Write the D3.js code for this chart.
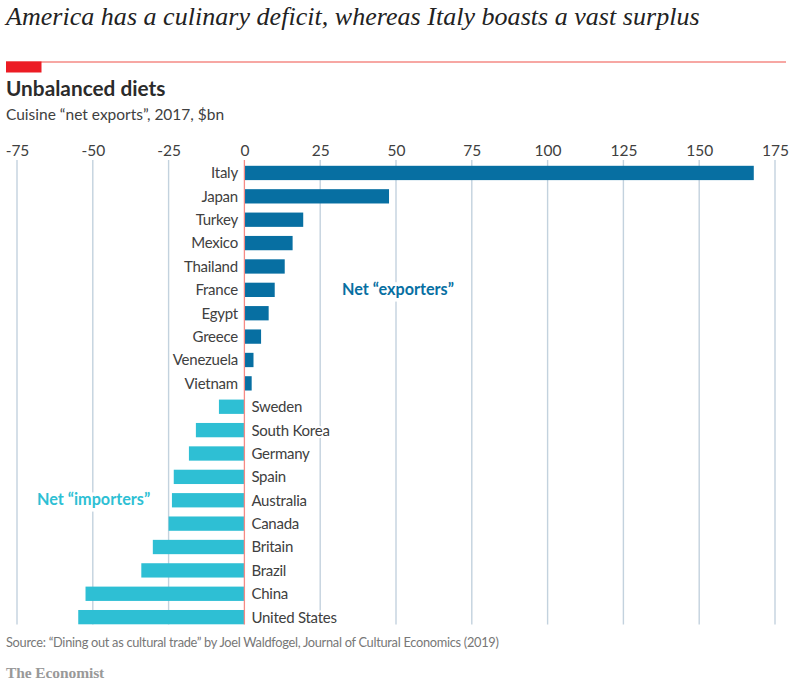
<!DOCTYPE html>
<html>
<head>
<meta charset="utf-8">
<script src="https://cdn.jsdelivr.net/npm/d3@7"></script>
<style>
  html, body { margin: 0; padding: 0; background: #fff; }
  text { font-family: Lato, "Noto Sans", sans-serif; }
</style>
</head>
<body>
<svg id="chart" width="800" height="689"></svg>
<script>
var countries = ["Italy", "Japan", "Turkey", "Mexico", "Thailand", "France", "Egypt", "Greece", "Venezuela", "Vietnam",
  "Sweden", "South Korea", "Germany", "Spain", "Australia", "Canada", "Britain", "Brazil", "China", "United States"];
var netExports = [168, 47.7, 19.4, 15.9, 13.3, 10, 8, 5.5, 3, 2.4,
  -8.4, -16, -18.3, -23.3, -23.9, -25, -30.2, -34, -52.4, -54.8];
var tickValues = [-75, -50, -25, 0, 25, 50, 75, 100, 125, 150, 175];

var exporterColour = "#076fa2";
var importerColour = "#2ebfd4";
var redLine = "#f58a85";
var inkColour = "#404040";

var svg = d3.select("#chart");

var x = d3.scaleLinear().domain([-75, 175]).range([17, 775]);
var y = d3.scaleBand().domain(countries).range([165.8, 624.3]).paddingInner(0.388).paddingOuter(0);

// title block
svg.append("text").attr("x", 6).attr("y", 25)
  .style("font-family", "'Liberation Serif', serif")
  .style("font-style", "italic").style("font-size", "26px").style("letter-spacing", "0.03px").attr("fill", "#222")
  .text("America has a culinary deficit, whereas Italy boasts a vast surplus");

svg.append("line").attr("x1", 6).attr("x2", 786).attr("y1", 62).attr("y2", 62)
  .attr("stroke", redLine).attr("stroke-width", 1.3);
svg.append("rect").attr("x", 6).attr("y", 61.5).attr("width", 35.5).attr("height", 11).attr("fill", "#ec1c24");

svg.append("text").attr("x", 6).attr("y", 96)
  .style("font-size", "20.8px").style("font-weight", 700).attr("fill", "#2b2b2b")
  .text("Unbalanced diets");
svg.append("text").attr("x", 6).attr("y", 120)
  .style("font-size", "15.5px").attr("fill", inkColour)
  .text("Cuisine \u201cnet exports\u201d, 2017, $bn");

// gridlines and tick labels
var xAxis = d3.axisTop(x).tickValues(tickValues).tickSize(0).tickPadding(0).tickFormat(d3.format("d"));
var axisG = svg.append("g").attr("transform", "translate(0,156)").call(xAxis);
axisG.select(".domain").remove();
axisG.selectAll("text")
  .style("font-size", "15.5px").style("font-family", "Lato, sans-serif").attr("fill", inkColour)
  .text(function(d) { return d < 0 ? "-" + Math.abs(d) : d; });

svg.append("g").selectAll("line")
  .data(tickValues.filter(function(d) { return d !== 0; }))
  .join("line")
  .attr("x1", function(d) { return x(d); })
  .attr("x2", function(d) { return x(d); })
  .attr("y1", 160).attr("y2", 624.5)
  .attr("stroke", "#c3d2de").attr("stroke-width", 1.4);

// bars
svg.append("g").selectAll("rect")
  .data(countries)
  .join("rect")
  .attr("x", function(d, i) { return x(Math.min(0, netExports[i])); })
  .attr("y", function(d) { return y(d); })
  .attr("width", function(d, i) { return Math.abs(x(netExports[i]) - x(0)); })
  .attr("height", y.bandwidth())
  .attr("fill", function(d, i) { return netExports[i] >= 0 ? exporterColour : importerColour; });

// zero line sits on top of the bars
svg.append("line").attr("x1", x(0)).attr("x2", x(0)).attr("y1", 160).attr("y2", 624.5)
  .attr("stroke", redLine).attr("stroke-width", 1.3);

// country labels, on the far side of zero from the bar
svg.append("g").selectAll("text")
  .data(countries)
  .join("text")
  .attr("x", function(d, i) { return netExports[i] >= 0 ? x(0) - 6.5 : x(0) + 7; })
  .attr("y", function(d) { return y(d) + y.bandwidth() / 2; })
  .attr("dy", "0.36em")
  .attr("text-anchor", function(d, i) { return netExports[i] >= 0 ? "end" : "start"; })
  .style("font-size", "15px").style("letter-spacing", "-0.25px").attr("fill", inkColour)
  .style("paint-order", "stroke").attr("stroke", "#fff").attr("stroke-width", 4)
  .text(function(d) { return d; });

// annotations
svg.append("text").attr("x", 342).attr("y", 295)
  .style("font-size", "16.2px").style("font-weight", 700).attr("fill", exporterColour)
  .style("paint-order", "stroke").attr("stroke", "#fff").attr("stroke-width", 7)
  .text("Net \u201cexporters\u201d");
svg.append("text").attr("x", 37).attr("y", 505)
  .style("font-size", "16.2px").style("font-weight", 700).attr("fill", importerColour)
  .style("paint-order", "stroke").attr("stroke", "#fff").attr("stroke-width", 7)
  .text("Net \u201cimporters\u201d");

// footer
svg.append("text").attr("x", 6).attr("y", 647)
  .style("font-size", "12.8px").style("letter-spacing", "-0.285px").attr("fill", "#777")
  .text("Source: \u201cDining out as cultural trade\u201d by Joel Waldfogel, Journal of Cultural Economics (2019)");
svg.append("text").attr("x", 6).attr("y", 678)
  .style("font-family", "'Liberation Serif', serif")
  .style("font-size", "15.5px").style("font-weight", 700).style("letter-spacing", "-0.1px").attr("fill", "#999")
  .text("The Economist");
</script>
</body>
</html>
